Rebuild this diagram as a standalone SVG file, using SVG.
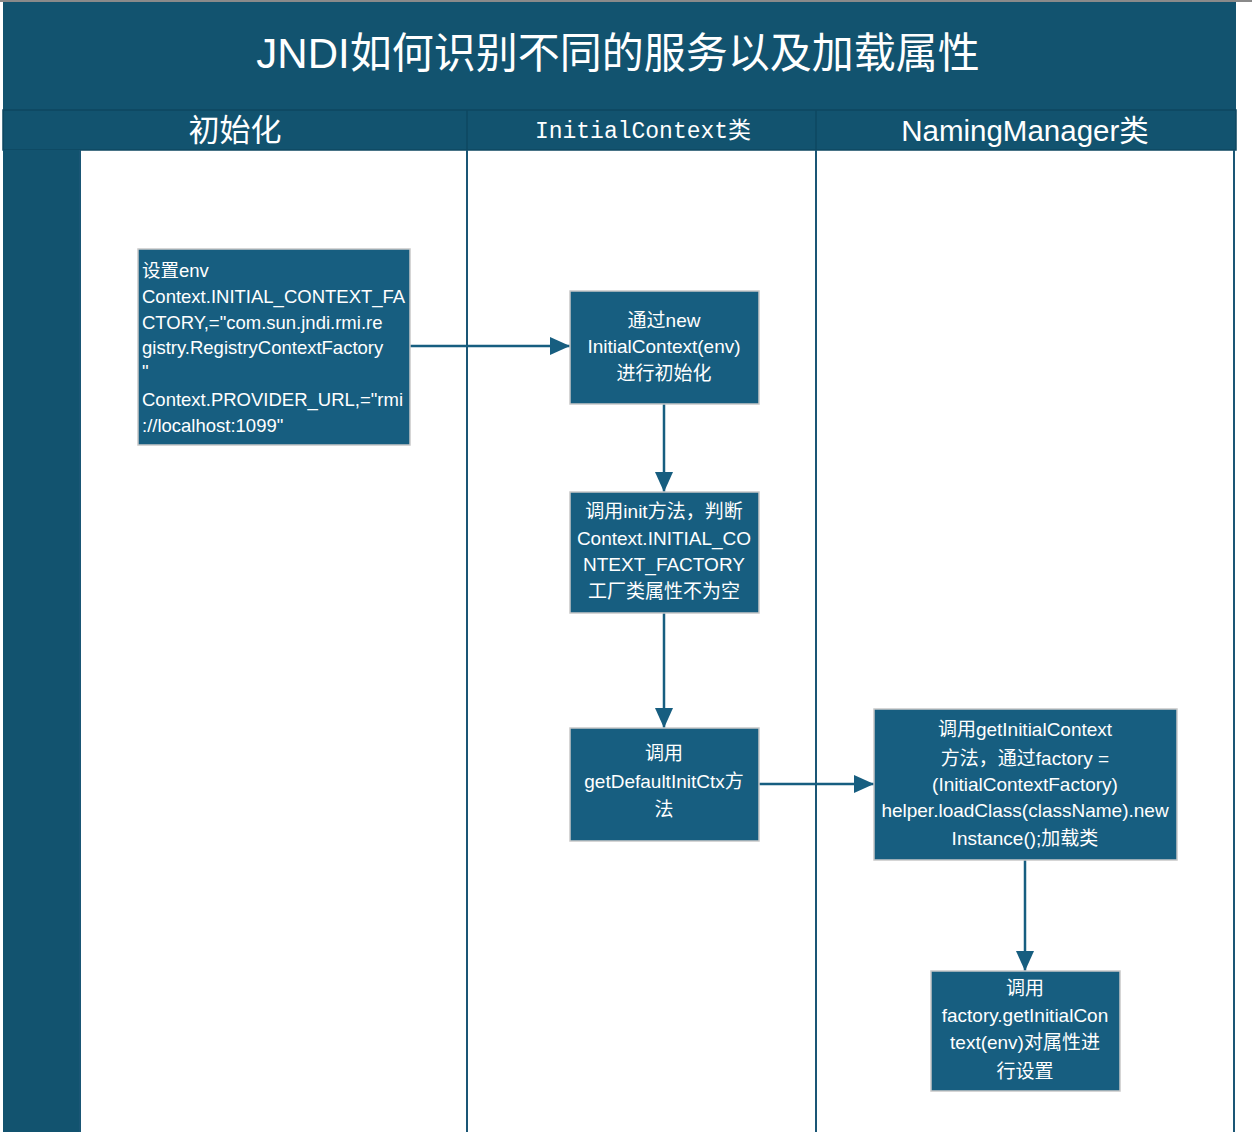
<svg xmlns="http://www.w3.org/2000/svg" width="1252" height="1132" viewBox="0 0 1252 1132">
<defs>
<style>
.band{fill:#12536f;}
.lane{stroke:#1a5675;stroke-width:2;fill:none;}
.node{fill:#175e80;stroke:#c8c8c8;stroke-width:1.5;}
.t{font-family:"Liberation Sans","Noto Sans CJK SC",sans-serif;fill:#ffffff;font-size:19px;}
.l{font-size:18.5px;}
.c{text-anchor:middle;}
.edge{stroke:#175e80;stroke-width:2.5;fill:none;}
</style>
<marker id="arr" markerWidth="20" markerHeight="18" refX="20" refY="9" orient="auto" markerUnits="userSpaceOnUse" viewBox="0 0 20 18">
<path d="M0,0 L20,9 L0,18 Z" fill="#175e80"/>
</marker>
</defs>
<rect x="0" y="0" width="1252" height="1132" fill="#ffffff"/>
<rect x="0" y="0" width="1252" height="2" fill="#8a8a8a"/>
<g id="title">
<rect class="band" x="3" y="2" width="1233" height="108"/>
<text x="618" y="68" class="c" font-family="Liberation Sans,'Noto Sans CJK SC',sans-serif" font-size="42" fill="#ffffff">JNDI如何识别不同的服务以及加载属性</text>
</g>
<g id="header">
<rect class="band" x="3" y="110" width="1233" height="40" stroke="#0e4760" stroke-width="1.5"/>
<line x1="467" y1="110" x2="467" y2="150" stroke="#0e4760" stroke-width="1.5"/>
<line x1="816" y1="110" x2="816" y2="150" stroke="#0e4760" stroke-width="1.5"/>
<text x="235" y="141" class="c" font-family="'Noto Sans CJK SC',sans-serif" font-size="31" fill="#ffffff">初始化</text>
<text x="643" y="138" class="c" font-family="'Liberation Mono','Noto Sans CJK SC',monospace" font-size="23" fill="#ffffff">InitialContext类</text>
<text x="1025" y="141" class="c" font-family="'Liberation Sans','Noto Sans CJK SC',sans-serif" font-size="29.5" fill="#ffffff">NamingManager类</text>
</g>
<g id="lanes">
<rect class="band" x="3" y="150" width="77" height="982"/>
<line class="lane" x1="80" y1="150" x2="80" y2="1132"/>
<line class="lane" x1="467" y1="150" x2="467" y2="1132"/>
<line class="lane" x1="816" y1="150" x2="816" y2="1132"/>
<line class="lane" x1="1234" y1="150" x2="1234" y2="1132" stroke-width="2.5"/>
</g>
<g id="connectors">
<line class="edge" x1="410" y1="346" x2="570" y2="346" marker-end="url(#arr)"/>
<line class="edge" x1="664" y1="404" x2="664" y2="492" marker-end="url(#arr)"/>
<line class="edge" x1="664" y1="613" x2="664" y2="728" marker-end="url(#arr)"/>
<line class="edge" x1="759" y1="784" x2="874" y2="784" marker-end="url(#arr)"/>
<line class="edge" x1="1025" y1="860" x2="1025" y2="971" marker-end="url(#arr)"/>
</g>
<g id="n1">
<rect class="node" x="138" y="249" width="272" height="196"/>
<text class="t l" x="142" y="277">设置env</text>
<text class="t l" x="142" y="303">Context.INITIAL_CONTEXT_FA</text>
<text class="t l" x="142" y="329">CTORY,="com.sun.jndi.rmi.re</text>
<text class="t l" x="142" y="354">gistry.RegistryContextFactory</text>
<text class="t l" x="142" y="378">"</text>
<text class="t l" x="142" y="406">Context.PROVIDER_URL,="rmi</text>
<text class="t l" x="142" y="432">://localhost:1099"</text>
</g>
<g id="n2">
<rect class="node" x="570" y="291" width="189" height="113"/>
<text class="t c" x="664" y="327">通过new</text>
<text class="t c" x="664" y="353">InitialContext(env)</text>
<text class="t c" x="664" y="380">进行初始化</text>
</g>
<g id="n3">
<rect class="node" x="570" y="492" width="189" height="121"/>
<text class="t c" x="664" y="518">调用init方法，判断</text>
<text class="t c" x="664" y="545">Context.INITIAL_CO</text>
<text class="t c" x="664" y="571">NTEXT_FACTORY</text>
<text class="t c" x="664" y="598">工厂类属性不为空</text>
</g>
<g id="n4">
<rect class="node" x="570" y="728" width="189" height="113"/>
<text class="t c" x="664" y="760">调用</text>
<text class="t c" x="664" y="788">getDefaultInitCtx方</text>
<text class="t c" x="664" y="816">法</text>
</g>
<g id="n5">
<rect class="node" x="874" y="709" width="303" height="151"/>
<text class="t c" x="1025" y="736">调用getInitialContext</text>
<text class="t c" x="1025" y="765">方法，通过factory =</text>
<text class="t c" x="1025" y="791">(InitialContextFactory)</text>
<text class="t c" x="1025" y="817">helper.loadClass(className).new</text>
<text class="t c" x="1025" y="845">Instance();加载类</text>
</g>
<g id="n6">
<rect class="node" x="931" y="971" width="189" height="120"/>
<text class="t c" x="1025" y="995">调用</text>
<text class="t c" x="1025" y="1022">factory.getInitialCon</text>
<text class="t c" x="1025" y="1049">text(env)对属性进</text>
<text class="t c" x="1025" y="1078">行设置</text>
</g>
</svg>
